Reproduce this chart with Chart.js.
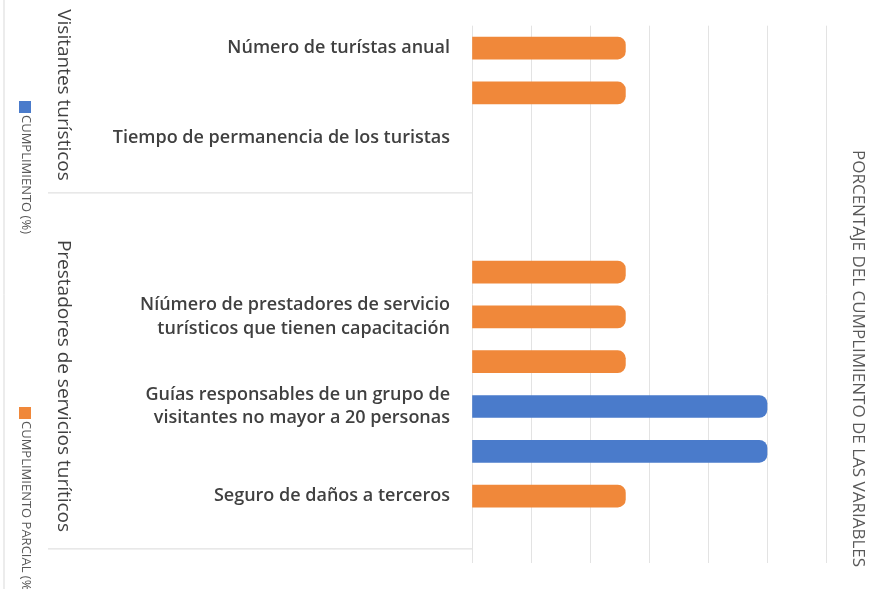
<!DOCTYPE html>
<html>
<head>
<meta charset="utf-8">
<script src="https://cdn.jsdelivr.net/npm/chart.js@4"></script>
<style>
  html, body { margin: 0; padding: 0; background: #fff; }
  #wrap { width: 886px; height: 589px; }
</style>
</head>
<body>
<div id="wrap"><canvas id="chart" width="886" height="589"></canvas></div>
<script>
  // categories (top to bottom), "" = empty slot between groups
  const categories = [
    "Número de turístas anual",
    "Origen de los turistas",
    "Tiempo de permanencia de los turistas",
    "",
    "",
    ["Número de prestadores de servicios", "turísticos"],
    ["Níúmero de prestadores de servicio", "turísticos que tienen capacitación"],
    "Permisos de la SEMARNAT-CONANP",
    ["Guías responsables de un grupo de", "visitantes no mayor a 20 personas"],
    ["Número de guías que trabajan  con el", "prestador de servicios turísticos"],
    "Seguro de daños a terceros",
    ""
  ];
  const cumplimiento = [null, null, null, null, null, null, null, null, 100, 100, null, null];
  const cumplimientoParcial = [52, 52, null, null, null, 52, 52, 52, null, null, 52, null];
  const xTicks = [0, 20, 40, 60, 80, 100, 120];

  const BLUE = "#4a7bcb";
  const ORANGE = "#f0883a";
  const TEXT = "#404040";

  const extras = {
    id: "extras",
    afterDraw(chart) {
      const ctx = chart.ctx;
      const y = chart.scales.y;
      const area = chart.chartArea;
      ctx.save();
      // group separators
      ctx.strokeStyle = "#d9d9d9";
      ctx.lineWidth = 1;
      const sep1 = (y.getPixelForValue(3) + y.getPixelForValue(4)) / 2 - 12;
      const sep2 = y.getPixelForValue(11) + 8;
      [sep1, sep2].forEach(p => {
        ctx.beginPath(); ctx.moveTo(48, p); ctx.lineTo(area.left, p); ctx.stroke();
      });
      ctx.beginPath(); ctx.moveTo(4, 0); ctx.lineTo(4, 589); ctx.stroke();

      // group labels (rotated)
      ctx.fillStyle = TEXT;
      ctx.font = "19px 'Open Sans'";
      ctx.textAlign = "center";
      ctx.textBaseline = "middle";
      const groups = [["Visitantes turísticos", 95], ["Prestadores de servicios turíticos", 386]];
      groups.forEach(([t, cy]) => {
        ctx.save(); ctx.translate(63, cy); ctx.rotate(Math.PI / 2); ctx.fillText(t, 0, 0); ctx.restore();
      });

      // legend (rotated)
      ctx.font = "13px 'Open Sans'";
      ctx.textAlign = "left";
      const legend = [[BLUE, "CUMPLIMIENTO (%)", 101], [ORANGE, "CUMPLIMIENTO PARCIAL (%)", 407]];
      legend.forEach(([c, t, ty]) => {
        ctx.fillStyle = c;
        ctx.fillRect(19, ty, 12, 12);
        ctx.save(); ctx.translate(26, ty + 14); ctx.rotate(Math.PI / 2);
        ctx.fillStyle = "#595959"; ctx.fillText(t, 0, 0); ctx.restore();
      });

      // axis title on the right (rotated)
      ctx.font = "17px 'Open Sans'";
      ctx.fillStyle = "#595959";
      ctx.save(); ctx.translate(858, 150); ctx.rotate(Math.PI / 2);
      ctx.fillText("PORCENTAJE DEL CUMPLIMIENTO DE LAS VARIABLES", 0, 0); ctx.restore();
      ctx.restore();
    }
  };

  new Chart(document.getElementById("chart"), {
    type: "bar",
    data: {
      labels: categories,
      datasets: [
        { label: "CUMPLIMIENTO (%)", data: cumplimiento, backgroundColor: BLUE },
        { label: "CUMPLIMIENTO PARCIAL (%)", data: cumplimientoParcial, backgroundColor: ORANGE }
      ]
    },
    options: {
      indexAxis: "y",
      responsive: false,
      animation: false,
      skipNull: true,
      barThickness: 22,
      borderRadius: 8,
      borderSkipped: "start",
      layout: { padding: { top: -21, right: 60, bottom: -18, left: 0 } },
      plugins: { legend: { display: false }, tooltip: { enabled: false } },
      scales: {
        x: {
          min: xTicks[0],
          max: xTicks[xTicks.length - 1],
          afterBuildTicks: s => { s.ticks = xTicks.map(v => ({ value: v })); },
          ticks: { display: false },
          grid: { color: "#e3e3e3", drawTicks: false },
          border: { display: false }
        },
        y: {
          afterFit: s => { s.width = 472; },
          grid: { display: false },
          border: { display: false },
          ticks: {
            padding: 14,
            color: TEXT,
            font: { family: "'Open Sans'", size: 18, weight: "600", lineHeight: 1.3 }
          }
        }
      }
    },
    plugins: [extras]
  });
</script>
</body>
</html>
